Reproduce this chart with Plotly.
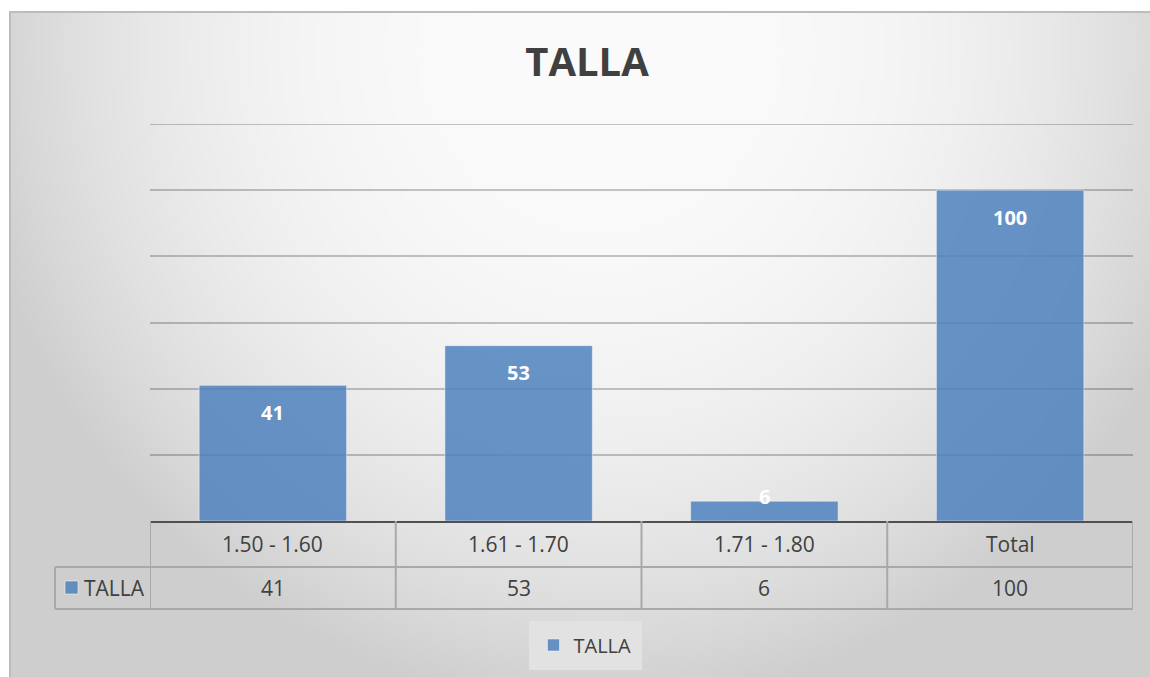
import base64
import struct
import zlib

import numpy as np
import plotly.graph_objects as go

# ---- data ----
categories = ["1.50 - 1.60", "1.61 - 1.70", "1.71 - 1.80", "Total"]
talla = [41, 53, 6, 100]
series_name = "TALLA"
chart_title = "TALLA"

# ---- layout geometry (pixels) ----
W, H = 1150, 677
PL, PR, PT, PB = 150, 1133, 124, 521          # plot area edges
Y_MAX = 120
Y_STEP = 20
FRAME_L, FRAME_T = 10, 12                      # chart frame
ROW1_BOTTOM, ROW2_BOTTOM = 567, 609            # data table rows
LEGEND_CELL_L = 55

PW, PH = PR - PL, PB - PT


def px_x(x):
    return (x - PL) / PW


def px_y(y):
    return (PB - y) / PH


def gray_png_uri(arr):
    """Encode a 2-D uint8 array as a grayscale PNG data URI."""
    h, w = arr.shape
    raw = b"".join(b"\x00" + arr[r].tobytes() for r in range(h))

    def chunk(tag, data):
        c = struct.pack(">I", len(data)) + tag + data
        return c + struct.pack(">I", zlib.crc32(tag + data) & 0xFFFFFFFF)

    png = b"\x89PNG\r\n\x1a\n"
    png += chunk(b"IHDR", struct.pack(">IIBBBBB", w, h, 8, 0, 0, 0, 0))
    png += chunk(b"IDAT", zlib.compress(raw, 9))
    png += chunk(b"IEND", b"")
    return "data:image/png;base64," + base64.b64encode(png).decode()


# soft radial gray background of the chart area
step = 4
fw, fh = W - FRAME_L, H - FRAME_T
gx = (np.arange(fw // step) + 0.5) * step + FRAME_L
gy = (np.arange(fh // step) + 0.5) * step + FRAME_T
XX, YY = np.meshgrid(gx, gy)
t = np.sqrt(((XX - 600) / 640) ** 2 + ((YY - 50) / 660) ** 2)
t = np.clip(t, 0, 1)
bg = np.clip(251 - 45 * t ** 2.5, 0, 255).astype(np.uint8)
bg_uri = gray_png_uri(bg)

bar_color = "rgba(79,129,189,0.85)"
text_color = "#404040"
grid_color = "rgba(0,0,0,0.22)"
table_line = "#a9a9a9"
font_family = "Open Sans, Arial, sans-serif"

fig = go.Figure()
fig.add_trace(go.Bar(
    x=categories,
    y=talla,
    name=series_name,
    marker=dict(color=bar_color, line=dict(color="rgba(255,255,255,0.45)", width=1)),
    hoverinfo="x+y",
))

# value labels inside the bar tops (pushed above very short bars)
bar_px_per_unit = PH / Y_MAX
for cat, v in zip(categories, talla):
    shift = -27 if v * bar_px_per_unit > 54 else 5
    fig.add_annotation(
        x=cat, y=v, xref="x", yref="y", text=f"<b>{v}</b>", showarrow=False,
        yanchor="middle", yshift=shift,
        font=dict(family=font_family, size=20, color="white"),
    )

shapes = []
# gridline at the top of the value range
shapes.append(dict(type="line", xref="paper", yref="y", x0=0, x1=1, y0=Y_MAX, y1=Y_MAX,
                   layer="below", line=dict(color=grid_color, width=2)))
# data table grid below the axis
y_axis_line = px_y(PB)
y_row1 = px_y(ROW1_BOTTOM)
y_row2 = px_y(ROW2_BOTTOM)
for i in range(len(categories) + 1):
    shapes.append(dict(type="line", xref="x", yref="paper", x0=i - 0.5, x1=i - 0.5,
                       y0=y_axis_line, y1=y_row2, line=dict(color=table_line, width=2)))
shapes.append(dict(type="line", xref="paper", yref="paper", x0=px_x(LEGEND_CELL_L), x1=px_x(LEGEND_CELL_L),
                   y0=y_row1, y1=y_row2, line=dict(color=table_line, width=2)))
for yy in (y_row1, y_row2):
    shapes.append(dict(type="line", xref="paper", yref="paper", x0=px_x(LEGEND_CELL_L), x1=1,
                       y0=yy, y1=yy, line=dict(color=table_line, width=2)))
# series key in the table's first column
shapes.append(dict(type="rect", xref="paper", yref="paper",
                   x0=px_x(65), x1=px_x(78), y0=px_y(594), y1=px_y(581),
                   fillcolor=bar_color, line=dict(color="rgba(255,255,255,0.5)", width=1)))
# chart frame
shapes.append(dict(type="rect", xref="paper", yref="paper", layer="below",
                   x0=px_x(FRAME_L), x1=px_x(W + 5), y0=px_y(H + 5), y1=px_y(FRAME_T),
                   line=dict(color="#bcbcbc", width=2), fillcolor="rgba(0,0,0,0)"))

row1_mid = px_y((PB + ROW1_BOTTOM) / 2)
row2_mid = px_y((ROW1_BOTTOM + ROW2_BOTTOM) / 2)
table_font = dict(family=font_family, size=21, color=text_color)
for cat, v in zip(categories, talla):
    fig.add_annotation(x=cat, y=row1_mid, xref="x", yref="paper", text=cat,
                       showarrow=False, yanchor="middle", font=table_font)
    fig.add_annotation(x=cat, y=row2_mid, xref="x", yref="paper", text=str(v),
                       showarrow=False, yanchor="middle", font=table_font)
fig.add_annotation(x=px_x(82), y=row2_mid, xref="paper", yref="paper", text=series_name,
                   showarrow=False, xanchor="left", yanchor="middle", font=table_font)

fig.update_layout(
    width=W, height=H,
    margin=dict(l=PL, r=W - PR, t=PT, b=H - PB, pad=0, autoexpand=False),
    paper_bgcolor="white",
    plot_bgcolor="rgba(0,0,0,0)",
    bargap=0.4,
    title=dict(text=f"<b>{chart_title}</b>", x=587 / W, xanchor="center",
               y=1 - 62 / H, yanchor="middle", yref="container",
               font=dict(family=font_family, size=40, color=text_color)),
    showlegend=True,
    legend=dict(orientation="h", x=px_x(585), xanchor="center", y=px_y(645), yanchor="middle",
                bgcolor="#e2e2e2", bordercolor="#e2e2e2", borderwidth=5, itemwidth=30,
                font=dict(family=font_family, size=20, color=text_color)),
    xaxis=dict(range=[-0.5, len(categories) - 0.5], showticklabels=False, ticks="",
               showgrid=False, showline=True, linecolor="#505050", linewidth=2,
               zeroline=False, fixedrange=True),
    yaxis=dict(range=[0, Y_MAX], dtick=Y_STEP, showticklabels=False, ticks="",
               showgrid=True, gridcolor=grid_color, gridwidth=2, zeroline=False,
               showline=False, fixedrange=True),
    shapes=shapes,
    images=[dict(source=bg_uri, xref="paper", yref="paper",
                 x=px_x(FRAME_L), y=px_y(FRAME_T), sizex=px_x(W) - px_x(FRAME_L),
                 sizey=px_y(FRAME_T) - px_y(H), xanchor="left", yanchor="top",
                 sizing="stretch", layer="below")],
)

fig.write_html("out.html", config={"displayModeBar": False})
